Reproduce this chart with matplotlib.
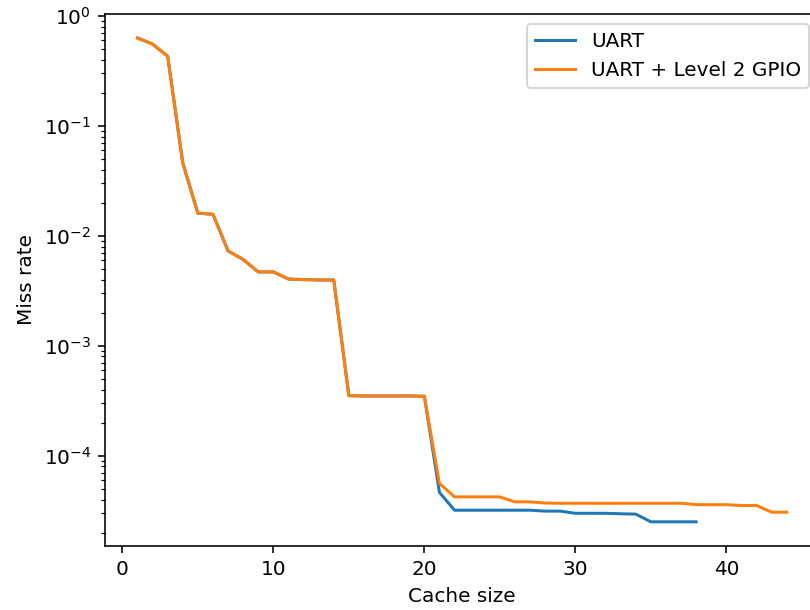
import matplotlib
matplotlib.use("Agg")
import matplotlib.pyplot as plt

cache_sizes_uart = list(range(1, 39))
cache_sizes_gpio = list(range(1, 45))

common_head = [0.63, 0.555, 0.43, 0.046, 0.0161, 0.0157, 0.0073, 0.0061, 0.0047, 0.0047,
               0.00405, 0.0040, 0.00397, 0.00397, 3.52e-4, 3.5e-4, 3.5e-4, 3.5e-4, 3.5e-4, 3.48e-4]

uart_tail = [4.64e-5, 3.2e-5, 3.2e-5, 3.2e-5, 3.2e-5, 3.2e-5, 3.2e-5, 3.14e-5, 3.14e-5,
             3.0e-5, 3.0e-5, 3.0e-5, 2.97e-5, 2.95e-5, 2.51e-5, 2.51e-5, 2.51e-5, 2.51e-5]

gpio_tail = [5.6e-5, 4.23e-5, 4.23e-5, 4.23e-5, 4.23e-5, 3.81e-5, 3.81e-5, 3.72e-5, 3.7e-5,
             3.7e-5, 3.7e-5, 3.7e-5, 3.7e-5, 3.7e-5, 3.7e-5, 3.7e-5, 3.7e-5, 3.6e-5, 3.59e-5,
             3.59e-5, 3.53e-5, 3.53e-5, 3.07e-5, 3.07e-5]

miss_uart = common_head + uart_tail
miss_gpio = common_head + gpio_tail

labels = ["UART", "UART + Level 2 GPIO"]

dpi = 144
fig = plt.figure(figsize=(810 / dpi, 610 / dpi), dpi=dpi)
ax = fig.add_axes([105 / 810, 64 / 610, 714.2 / 810, 532.2 / 610])
ax.plot(cache_sizes_uart, miss_uart, label=labels[0])
ax.plot(cache_sizes_gpio, miss_gpio, label=labels[1])
ax.set_yscale("log")
ax.set_xlabel("Cache size")
ax.set_ylabel("Miss rate")
ax.legend(loc="upper right")
fig.savefig("out.png", dpi=dpi)
